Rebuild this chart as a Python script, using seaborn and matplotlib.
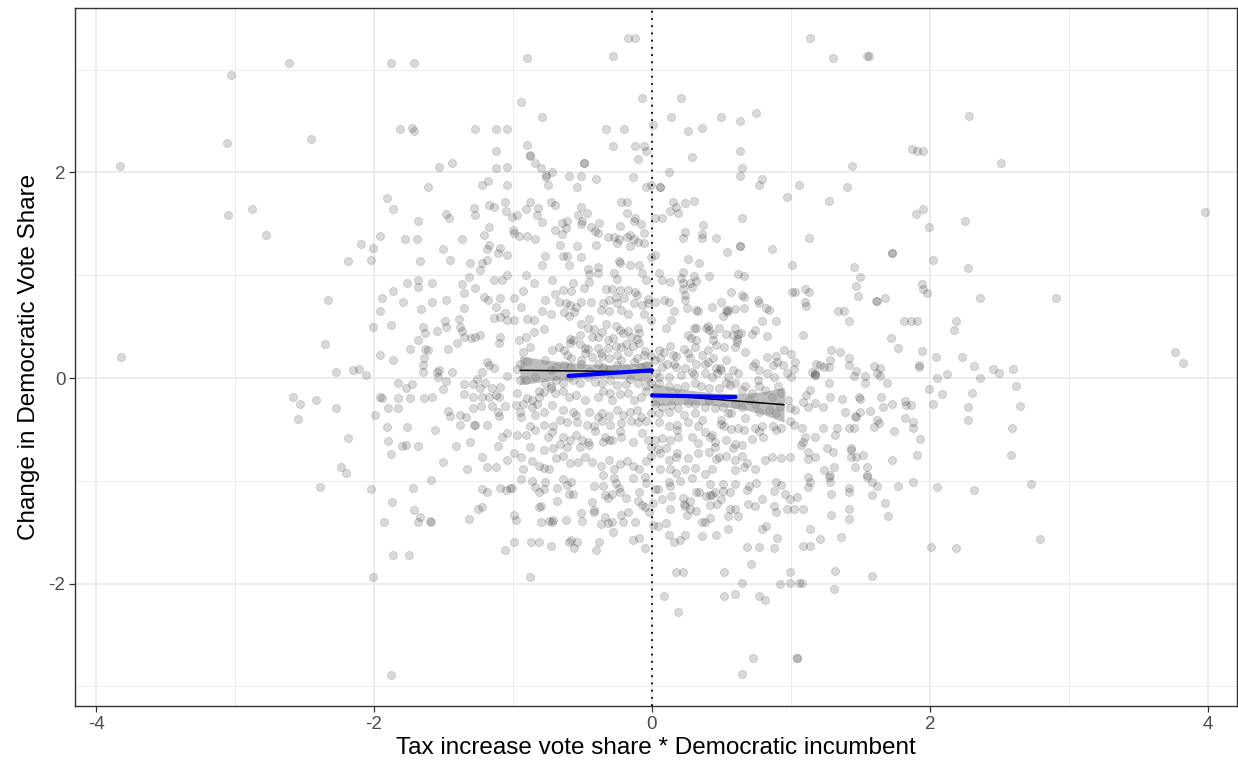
import matplotlib
matplotlib.use("Agg")
import matplotlib.pyplot as plt
from matplotlib.ticker import MultipleLocator
import pandas as pd
import seaborn as sns

# ---- district observations: (tax increase vote share * Dem incumbent, change in Dem vote share)
outer_left = [
    (-3.83, 2.06), (-3.82, 0.20), (-3.03, 2.95), (-3.06, 2.29), (-3.05, 1.59), (-2.88, 1.64),
    (-2.78, 1.39), (-2.61, 3.07), (-2.45, 2.33), (-2.33, 0.76), (-2.35, 0.33), (-2.58, -0.18),
    (-2.55, -0.40), (-2.53, -0.25), (-2.42, -0.21), (-2.39, -1.06), (-2.27, -0.29), (-2.27, 0.06),
    (-2.19, 1.14), (-2.19, -0.58), (-2.20, -0.92), (-2.24, -0.87), (-2.15, 0.08), (-2.11, 0.09),
    (-2.09, 1.30), (-2.06, 0.03),
]

upper_left = [
    (-1.88, 3.07), (-1.71, 3.07), (-1.81, 2.42), (-1.73, 2.43), (-1.71, 2.40), (-1.27, 2.42),
    (-1.12, 2.42), (-1.04, 2.42), (-1.12, 2.21), (-1.53, 2.05), (-1.44, 2.09), (-1.12, 2.04),
    (-1.04, 2.05), (-1.18, 1.92), (-1.22, 1.88), (-1.61, 1.86), (-1.91, 1.75), (-1.86, 1.64),
    (-1.68, 1.53), (-1.48, 1.60), (-1.46, 1.56), (-1.28, 1.65), (-1.27, 1.59), (-1.17, 1.68),
    (-1.14, 1.66), (-1.06, 1.71), (-1.05, 1.63), (-1.17, 1.47), (-1.21, 1.39), (-1.96, 1.38),
    (-1.78, 1.35), (-1.69, 1.35), (-1.37, 1.35), (-1.04, 1.88),
    (-0.90, 3.11), (-0.28, 3.13), (-0.17, 3.31), (-0.12, 3.31), (-0.94, 2.69), (-0.79, 2.54),
    (-0.07, 2.72), (-0.33, 2.42), (-0.20, 2.42), (-0.90, 2.27), (-0.88, 2.17), (-0.88, 2.16),
    (-0.84, 2.09), (-0.80, 2.04), (-0.76, 1.98), (-0.76, 1.96), (-0.72, 2.00), (-0.75, 1.88),
    (-0.28, 2.26), (-0.12, 2.26), (-0.06, 2.26), (-0.04, 2.21), (-0.10, 2.13), (-0.49, 2.09),
    (-0.49, 2.09), (-0.60, 1.97), (-0.51, 1.97), (-0.54, 1.86), (-0.40, 1.94), (-0.14, 1.96),
    (-0.04, 1.86), (-0.01, 1.88), (-0.88, 1.71), (-0.91, 1.64), (-0.82, 1.65), (-0.83, 1.59),
    (-0.79, 1.52), (-0.97, 1.59), (-0.73, 1.71), (-0.70, 1.68), (-0.22, 1.71), (-0.18, 1.71),
    (-0.18, 1.61), (-0.12, 1.56), (-0.13, 1.53), (-0.08, 1.50), (-0.51, 1.66), (-0.47, 1.61),
    (-0.53, 1.59), (-0.50, 1.53), (-0.51, 1.50), (-0.38, 1.51), (-0.65, 1.51), (-0.61, 1.53),
    (-0.62, 1.46), (-0.70, 1.44), (-0.65, 1.40), (-0.44, 1.47), (-0.41, 1.43), (-0.39, 1.41),
    (-0.23, 1.48), (-0.06, 1.41), (-1.01, 1.57), (-1.00, 1.44), (-0.99, 1.41), (-0.96, 1.38),
    (-0.90, 1.38), (-0.84, 1.35), (-0.32, 1.37), (-0.27, 1.37), (-0.24, 1.35), (-0.18, 1.37),
    (-0.16, 1.39), (-0.13, 1.35),
]

middle_far_left = [
    (-2.01, 1.27), (-2.02, 1.15), (-1.67, 1.14), (-1.50, 1.26), (-1.45, 1.15), (-1.17, 1.29),
    (-1.19, 1.26), (-1.09, 1.27), (-1.11, 1.22), (-1.04, 1.20), (-1.31, 1.12), (-1.22, 1.12),
    (-1.24, 1.05), (-1.19, 1.15), (-1.76, 0.92), (-1.68, 0.95), (-1.68, 0.89), (-1.58, 0.92),
    (-1.86, 0.85), (-1.94, 0.78), (-1.79, 0.74), (-1.96, 0.65), (-1.58, 0.74), (-1.48, 0.76),
    (-1.66, 0.67), (-1.37, 0.91), (-1.35, 0.83), (-1.27, 0.88), (-1.32, 0.98), (-1.14, 0.95),
    (-1.08, 0.95), (-1.04, 1.00), (-1.21, 0.79), (-1.18, 0.76), (-1.09, 0.78), (-1.12, 0.69),
    (-1.06, 0.63), (-1.09, 0.59), (-1.14, 0.58), (-1.04, 0.56), (-1.35, 0.68), (-2.01, 0.50),
    (-1.88, 0.52), (-1.65, 0.50), (-1.55, 0.46), (-1.49, 0.55), (-1.48, 0.50), (-1.63, 0.44),
    (-1.68, 0.37), (-1.74, 0.28), (-1.39, 0.57), (-1.38, 0.50), (-1.37, 0.46), (-1.35, 0.40),
    (-1.30, 0.39), (-1.27, 0.40), (-1.24, 0.42), (-1.40, 0.34), (-1.47, 0.28), (-1.63, 0.28),
    (-1.61, 0.27), (-1.64, 0.19), (-1.65, 0.13), (-1.65, 0.06), (-1.09, 0.40), (-1.10, 0.34),
    (-1.96, 0.22), (-1.86, 0.18), (-1.19, 0.16), (-1.17, 0.13), (-1.14, 0.10), (-1.22, 0.06),
    (-1.55, 0.06), (-1.53, 0.08), (-1.54, 0.01), (-1.44, 0.06), (-1.48, -0.03), (-1.50, -0.11),
    (-1.83, -0.05), (-1.77, -0.10), (-1.73, -0.06), (-1.96, -0.18), (-1.94, -0.19), (-1.83, -0.19),
    (-1.74, -0.19), (-1.64, -0.19), (-1.58, -0.18), (-1.90, -0.29), (-1.83, -0.29), (-1.99, -0.36),
    (-1.35, -0.06), (-1.29, -0.06), (-1.26, -0.01), (-1.24, -0.10), (-1.20, -0.05), (-1.15, -0.10),
    (-1.09, -0.09), (-1.04, 0.02), (-1.22, -0.18), (-1.17, -0.18), (-1.12, -0.17), (-1.10, -0.18),
    (-1.35, -0.16), (-1.29, -0.18), (-1.47, -0.32), (-1.45, -0.37), (-1.38, -0.36), (-1.34, -0.38),
    (-1.29, -0.29), (-1.23, -0.27), (-1.15, -0.27), (-1.06, -0.27), (-1.11, -0.33), (-1.10, -0.37),
    (-1.91, -0.48), (-1.76, -0.48), (-1.56, -0.51), (-1.38, -0.46), (-1.28, -0.46), (-1.27, -0.46),
    (-1.19, -0.46), (-1.90, -0.61), (-1.80, -0.66), (-1.77, -0.65), (-1.68, -0.66), (-1.88, -0.74),
    (-1.41, -0.66), (-1.31, -0.62), (-1.22, -0.77), (-1.11, -0.66), (-1.08, -0.57), (-1.04, -0.54),
    (-1.50, -0.82), (-1.33, -0.89), (-1.19, -0.87), (-1.12, -0.87), (-1.04, -0.80),
]

middle_near_left = [
    (-0.66, 1.29), (-0.54, 1.28), (-0.40, 1.29), (-0.25, 1.31), (-0.16, 1.28), (-0.10, 1.32),
    (-0.06, 1.31), (-0.77, 1.19), (-0.64, 1.19), (-0.51, 1.18), (-0.61, 1.19), (-0.79, 1.10),
    (-0.60, 1.10), (-0.24, 1.14), (-0.23, 1.12), (-0.16, 1.10), (-0.09, 1.10), (-0.01, 1.18),
    (-0.46, 1.06), (-0.39, 1.08), (-0.39, 1.02), (-0.45, 1.01), (-0.27, 1.02), (-0.25, 0.96),
    (-0.07, 1.02), (-0.04, 0.95), (-0.72, 0.95), (-0.85, 0.92), (-0.91, 1.00), (-0.57, 0.92),
    (-0.64, 0.86), (-0.58, 0.85), (-0.49, 0.88), (-0.45, 0.93), (-0.33, 0.87), (-0.29, 0.87),
    (-0.23, 0.86), (-0.17, 0.86), (-0.12, 0.84), (-0.11, 0.81), (-0.03, 0.77), (-0.93, 0.85),
    (-0.70, 0.82), (-0.77, 0.76), (-0.99, 0.78), (-0.67, 0.74), (-0.62, 0.73), (-0.59, 0.71),
    (-0.55, 0.69), (-0.51, 0.74), (-0.44, 0.74), (-0.35, 0.73), (-0.31, 0.76), (-0.26, 0.79),
    (-0.25, 0.73), (-0.20, 0.78), (-0.13, 0.73), (-0.07, 0.71), (-0.03, 0.73), (-0.94, 0.69),
    (-0.79, 0.65), (-0.73, 0.62), (-0.63, 0.64), (-0.60, 0.60), (-0.56, 0.64), (-0.37, 0.66),
    (-0.31, 0.65), (-0.22, 0.66), (-0.17, 0.62), (-0.06, 0.62), (-0.01, 0.56), (-0.45, 0.57),
    (-0.51, 0.53), (-0.90, 0.57), (-0.85, 0.56), (-0.99, 0.56), (-0.78, 0.48), (-0.85, 0.45),
    (-0.91, 0.40), (-0.96, 0.37), (-0.46, 0.49), (-0.42, 0.48), (-0.33, 0.53), (-0.26, 0.51),
    (-0.23, 0.47), (-0.21, 0.44), (-0.17, 0.46), (-0.15, 0.40), (-0.10, 0.49), (-0.09, 0.44),
    (-0.11, 0.38), (-0.52, 0.42), (-0.57, 0.37), (-0.59, 0.38), (-0.39, 0.40), (-0.43, 0.40),
    (-0.36, 0.45), (-0.32, 0.37), (-0.28, 0.39), (-0.88, 0.30), (-0.93, 0.25), (-0.72, 0.27),
    (-0.67, 0.30), (-0.63, 0.27), (-0.59, 0.34), (-0.52, 0.33), (-0.48, 0.29), (-0.39, 0.29),
    (-0.46, 0.28), (-0.37, 0.24), (-0.32, 0.29), (-0.26, 0.31), (-0.22, 0.30), (-0.19, 0.33),
    (-0.14, 0.31), (-0.09, 0.34), (-0.05, 0.26), (-0.61, 0.22), (-0.58, 0.19), (-0.51, 0.18),
    (-0.48, 0.24), (-0.43, 0.20), (-0.36, 0.21), (-0.31, 0.19), (-0.25, 0.22), (-0.22, 0.18),
    (-0.17, 0.25), (-0.11, 0.19), (-0.06, 0.22), (-0.01, 0.21), (-0.97, 0.09), (-0.95, 0.14),
    (-0.90, 0.17), (-0.77, 0.18), (-0.73, 0.08), (-0.69, 0.11), (-0.63, 0.13), (-0.59, 0.11),
    (-0.51, 0.14), (-0.45, 0.07), (-0.39, 0.14), (-0.35, 0.11), (-0.31, 0.08), (-0.25, 0.13),
    (-0.19, 0.10), (-0.13, 0.16), (-0.08, 0.11), (-0.04, 0.13), (-0.95, -0.02), (-0.91, -0.02),
    (-0.84, 0.01), (-0.77, -0.05), (-0.73, -0.08), (-0.69, -0.02), (-0.64, -0.05), (-0.60, 0.01),
    (-0.57, -0.02), (-0.52, -0.05), (-0.46, 0.01), (-0.41, -0.04), (-0.36, -0.05), (-0.30, -0.02),
    (-0.25, -0.07), (-0.19, -0.06), (-0.16, -0.01), (-0.10, -0.05), (-0.04, -0.08), (-0.005, -0.05),
    (-0.81, -0.13), (-0.97, -0.15), (-0.90, -0.19), (-0.86, -0.21), (-0.81, -0.18), (-0.78, -0.14),
    (-0.73, -0.10), (-0.70, -0.15), (-0.64, -0.13), (-0.60, -0.18), (-0.55, -0.17), (-0.48, -0.21),
    (-0.39, -0.18), (-0.35, -0.13), (-0.30, -0.15), (-0.29, -0.21), (-0.23, -0.16), (-0.17, -0.15),
    (-0.13, -0.21), (-0.08, -0.18), (-0.04, -0.13), (-0.98, -0.26), (-0.93, -0.25), (-0.86, -0.28),
    (-0.83, -0.25), (-0.95, -0.33), (-0.94, -0.38), (-0.84, -0.36), (-0.78, -0.33), (-0.72, -0.26),
    (-0.64, -0.31), (-0.57, -0.33), (-0.55, -0.36), (-0.45, -0.33), (-0.39, -0.38), (-0.36, -0.34),
    (-0.31, -0.37), (-0.25, -0.31), (-0.21, -0.36), (-0.16, -0.33), (-0.11, -0.31), (-0.08, -0.38),
    (-0.04, -0.42), (-0.88, -0.47), (-0.78, -0.46), (-0.66, -0.41), (-0.71, -0.47), (-0.61, -0.43),
    (-0.54, -0.43), (-0.47, -0.46), (-0.42, -0.47), (-0.36, -0.42), (-0.30, -0.46), (-0.22, -0.44),
    (-0.15, -0.42), (-0.10, -0.43), (-0.01, -0.34), (-0.97, -0.55), (-0.91, -0.55), (-0.84, -0.51),
    (-0.72, -0.53), (-0.75, -0.57), (-0.64, -0.57), (-0.59, -0.60), (-0.55, -0.55), (-0.50, -0.60),
    (-0.46, -0.62), (-0.41, -0.52), (-0.34, -0.57), (-0.29, -0.60), (-0.23, -0.52), (-0.22, -0.57),
    (-0.14, -0.62), (-0.07, -0.54), (-0.03, -0.60), (-0.01, -0.67), (-0.88, -0.67), (-0.78, -0.70),
    (-0.71, -0.68), (-0.66, -0.64), (-0.61, -0.67), (-0.52, -0.67), (-0.45, -0.65), (-0.35, -0.62),
    (-0.31, -0.60), (-0.99, -0.73), (-0.94, -0.77), (-0.93, -0.89), (-0.86, -0.81), (-0.81, -0.86),
    (-0.74, -0.89), (-0.78, -0.88), (-0.69, -0.78), (-0.64, -0.76), (-0.59, -0.83), (-0.53, -0.82),
    (-0.48, -0.77), (-0.43, -0.82), (-0.37, -0.86), (-0.31, -0.80), (-0.27, -0.89), (-0.23, -0.84),
    (-0.18, -0.81), (-0.14, -0.86), (-0.09, -0.89), (-0.04, -0.81), (-0.005, -0.76),
]

lower_left = [
    (-2.02, -1.08), (-1.72, -1.07), (-1.59, -0.99), (-1.87, -1.21), (-1.71, -1.28), (-1.93, -1.40),
    (-1.67, -1.35), (-1.68, -1.40), (-1.60, -1.39), (-1.59, -1.40), (-1.32, -1.37), (-1.25, -1.27),
    (-1.22, -1.26), (-1.22, -1.08), (-1.19, -1.11), (-1.09, -1.07), (-1.05, -1.09), (-1.02, -1.07),
    (-1.86, -1.72), (-1.75, -1.72), (-1.06, -1.67), (-2.01, -1.94), (-1.88, -2.89),
    (-0.88, -1.94), (-0.99, -1.60), (-0.87, -1.60), (-0.81, -1.60), (-0.73, -1.63), (-0.60, -1.60),
    (-0.58, -1.58), (-0.56, -1.65), (-0.54, -1.60), (-0.38, -1.60), (-0.40, -1.67), (-0.14, -1.58),
    (-0.09, -1.56), (-0.05, -1.65), (-0.99, -1.33), (-0.98, -1.38), (-0.80, -1.40), (-0.74, -1.39),
    (-0.72, -1.40), (-0.71, -1.38), (-0.62, -1.38), (-0.51, -1.31), (-0.50, -1.39), (-0.37, -1.42),
    (-0.34, -1.35), (-0.32, -1.41), (-0.29, -1.40), (-0.28, -1.50), (-0.22, -1.33), (-0.21, -1.40),
    (-0.17, -1.30), (-0.12, -1.40), (-0.43, -1.21), (-0.42, -1.28), (-0.42, -1.30), (-0.68, -1.20),
    (-0.81, -1.26), (-0.80, -1.25), (-0.81, -1.11), (-0.78, -1.08), (-0.84, -1.06), (-0.86, -1.00),
    (-0.94, -0.98), (-1.01, -1.07), (-0.77, -1.01), (-0.68, -1.07), (-0.64, -0.98), (-0.61, -1.04),
    (-0.58, -1.01), (-0.60, -1.13), (-0.57, -1.13), (-0.42, -1.05), (-0.35, -1.05), (-0.34, -1.14),
    (-0.32, -1.17), (-0.29, -1.13), (-0.26, -1.02), (-0.24, -1.07), (-0.23, -1.11), (-0.19, -1.17),
    (-0.27, -0.97), (-0.35, -0.94), (-0.14, -0.97), (-0.05, -0.96), (-0.09, -1.11), (-0.10, -1.20),
    (-0.05, -1.26), (-0.02, -1.30), (-0.07, -1.24), (-0.04, -1.02),
]

upper_right = [
    (0.01, 2.46), (0.21, 2.72), (0.14, 2.54), (0.26, 2.40), (0.36, 2.43), (0.50, 2.54),
    (0.63, 2.50), (0.75, 2.58), (0.29, 2.15), (0.63, 2.21), (0.65, 2.04), (0.63, 1.97),
    (0.12, 2.00), (0.06, 1.86), (0.06, 1.86), (0.79, 1.94), (0.77, 1.88), (0.97, 1.76),
    (1.06, 1.88), (0.15, 1.71), (0.17, 1.66), (0.13, 1.63), (0.19, 1.61), (0.24, 1.70),
    (0.30, 1.72), (0.02, 1.56), (0.07, 1.56), (0.65, 1.56), (0.37, 1.49), (0.36, 1.40),
    (0.36, 1.36), (0.24, 1.42), (0.22, 1.36), (0.46, 1.36),
    (1.14, 3.31), (1.30, 3.11), (1.55, 3.13), (1.56, 3.13), (1.87, 2.23), (1.91, 2.21),
    (1.95, 2.21), (1.44, 2.06), (1.40, 1.86), (1.27, 1.72), (1.90, 1.60), (1.95, 1.64),
    (1.99, 1.47), (1.13, 1.36),
]

middle_near_right = [
    (0.02, 1.20), (0.26, 1.16), (0.34, 1.12), (0.54, 1.23), (0.63, 1.28), (0.63, 1.28),
    (0.86, 1.26), (1.01, 1.10), (0.05, 1.02), (0.07, 0.95), (0.13, 0.93), (0.22, 1.03),
    (0.21, 0.97), (0.22, 0.92), (0.22, 0.87), (0.27, 0.92), (0.30, 0.99), (0.32, 0.94),
    (0.29, 0.89), (0.41, 0.99), (0.62, 1.01), (0.66, 0.99), (1.01, 0.84), (1.03, 0.84),
    (0.02, 0.74), (0.09, 0.76), (0.12, 0.74), (0.24, 0.81), (0.24, 0.76), (0.25, 0.68),
    (0.16, 0.65), (0.32, 0.66), (0.33, 0.65), (0.43, 0.69), (0.50, 0.74), (0.57, 0.84),
    (0.65, 0.81), (0.66, 0.79), (0.53, 0.66), (0.54, 0.64), (0.55, 0.66), (0.51, 0.60),
    (0.60, 0.67), (0.66, 0.68), (0.76, 0.76), (0.77, 0.73), (0.82, 0.68), (0.84, 0.66),
    (0.10, 0.49), (0.14, 0.56), (0.30, 0.49), (0.32, 0.49), (0.40, 0.51), (0.41, 0.47),
    (0.39, 0.49), (0.44, 0.43), (0.48, 0.49), (0.60, 0.49), (0.62, 0.43), (0.64, 0.44),
    (0.61, 0.38), (0.58, 0.42), (0.74, 0.47), (0.72, 0.43), (0.79, 0.55), (0.89, 0.55),
    (0.83, 0.41), (0.26, 0.42), (0.28, 0.39), (0.32, 0.37), (0.53, 0.43), (0.44, 0.37),
    (0.05, 0.27), (0.09, 0.25), (0.13, 0.31), (0.15, 0.22), (0.23, 0.28), (0.26, 0.24),
    (0.27, 0.19), (0.36, 0.22), (0.31, 0.30), (0.40, 0.27), (0.46, 0.32), (0.52, 0.30),
    (0.60, 0.30), (0.61, 0.35), (0.67, 0.25), (0.74, 0.15), (0.83, 0.20), (0.89, 0.21),
    (0.90, 0.16), (0.95, 0.27), (1.00, 0.23), (1.03, 0.16), (0.02, 0.18), (0.06, 0.19),
    (0.07, 0.11), (0.11, 0.14), (0.16, 0.14), (0.17, 0.11), (0.17, 0.21), (0.24, 0.10),
    (0.29, 0.06), (0.32, 0.14), (0.38, 0.14), (0.40, 0.16), (0.44, 0.19), (0.46, 0.10),
    (0.49, 0.10), (0.53, 0.18), (0.58, 0.08), (0.62, 0.05), (0.55, 0.01), (0.50, 0.08),
    (0.03, 0.05), (0.05, 0.01), (0.12, 0.01), (0.21, 0.03), (0.30, 0.04), (0.38, 0.05),
    (0.43, 0.01), (0.47, 0.05), (0.73, 0.12), (0.77, 0.08), (0.83, 0.05), (0.88, 0.01),
    (0.87, 0.13), (0.94, 0.13), (0.97, 0.05), (1.00, 0.01), (1.02, 0.09), (0.05, -0.05),
    (0.12, -0.08), (0.18, -0.10), (0.24, -0.08), (0.31, -0.05), (0.35, -0.08), (0.41, -0.10),
    (0.48, -0.10), (0.53, -0.05), (0.56, -0.07), (0.60, -0.05), (0.65, -0.12), (0.67, -0.08),
    (0.72, -0.15), (0.76, -0.02), (0.77, -0.08), (0.81, -0.12), (0.86, -0.18), (0.91, -0.08),
    (0.93, -0.15), (0.98, -0.21), (0.02, -0.25), (0.07, -0.28), (0.14, -0.26), (0.19, -0.29),
    (0.26, -0.24), (0.31, -0.25), (0.38, -0.28), (0.41, -0.21), (0.45, -0.29), (0.51, -0.28),
    (0.55, -0.34), (0.60, -0.25), (0.65, -0.28), (0.70, -0.21), (0.74, -0.25), (0.77, -0.33),
    (0.84, -0.31), (0.89, -0.34), (0.92, -0.27), (0.99, -0.29), (1.03, -0.31), (0.05, -0.34),
    (0.12, -0.33), (0.23, -0.36), (0.31, -0.34), (0.36, -0.41), (0.50, -0.41), (0.57, -0.34),
    (0.67, -0.39), (0.05, -0.43), (0.12, -0.47), (0.18, -0.46), (0.18, -0.51), (0.26, -0.43),
    (0.33, -0.47), (0.38, -0.53), (0.43, -0.55), (0.50, -0.45), (0.52, -0.47), (0.57, -0.50),
    (0.62, -0.49), (0.66, -0.51), (0.74, -0.49), (0.77, -0.52), (0.79, -0.47), (0.87, -0.47),
    (0.89, -0.51), (0.93, -0.49), (0.99, -0.42), (1.02, -0.46), (0.02, -0.60), (0.07, -0.58),
    (0.13, -0.60), (0.19, -0.57), (0.29, -0.57), (0.33, -0.63), (0.42, -0.57), (0.45, -0.62),
    (0.53, -0.60), (0.60, -0.64), (0.65, -0.65), (0.72, -0.59), (0.80, -0.57), (0.04, -0.69),
    (0.06, -0.73), (0.10, -0.68), (0.12, -0.80), (0.17, -0.77), (0.18, -0.73), (0.26, -0.78),
    (0.33, -0.73), (0.41, -0.72), (0.45, -0.67), (0.46, -0.79), (0.48, -0.77), (0.53, -0.76),
    (0.58, -0.68), (0.60, -0.80), (0.65, -0.76), (0.68, -0.83), (0.74, -0.89), (0.81, -0.80),
    (0.86, -0.77), (0.93, -0.78), (0.99, -0.77), (0.06, -0.89), (0.13, -0.89), (0.17, -0.92),
    (0.24, -0.89), (0.31, -0.88), (0.38, -0.93), (0.43, -0.89), (0.60, -0.90), (0.66, -0.87),
]

middle_far_right = [
    (1.73, 1.22), (1.73, 1.22), (2.02, 1.15), (1.45, 1.08), (1.50, 0.98), (1.47, 0.90),
    (1.48, 0.80), (1.94, 0.91), (1.95, 0.87), (1.98, 0.83), (1.10, 0.87), (1.13, 0.84),
    (1.10, 0.74), (1.11, 0.70), (1.61, 0.75), (1.62, 0.75), (1.68, 0.78), (1.34, 0.65),
    (1.38, 0.65), (1.42, 0.55), (1.81, 0.55), (1.86, 0.55), (1.91, 0.55), (1.72, 0.39),
    (1.77, 0.29), (1.09, 0.42), (1.29, 0.27), (1.35, 0.25), (1.28, 0.18), (1.42, 0.19),
    (1.42, 0.13), (1.47, 0.07), (1.45, 0.02), (1.53, 0.02), (1.53, -0.05), (1.94, 0.26),
    (1.92, 0.13), (1.92, 0.11), (2.04, 0.20), (1.60, 0.12), (1.64, 0.10), (1.62, 0.05),
    (1.64, 0.02), (1.69, -0.05), (1.18, 0.14), (1.21, 0.13), (1.24, 0.11), (1.27, 0.11),
    (1.15, 0.06), (1.17, 0.05), (1.17, 0.03), (1.17, 0.03), (1.27, -0.05), (2.05, 0.00),
    (1.99, -0.11), (2.09, -0.16), (2.02, -0.25), (1.14, -0.12), (1.11, -0.17), (1.09, -0.23),
    (1.12, -0.28), (1.17, -0.24), (1.23, -0.28), (1.28, -0.18), (1.37, -0.20), (1.49, -0.18),
    (1.50, -0.20), (1.65, -0.18), (1.73, -0.25), (1.66, -0.28), (1.57, -0.32), (1.50, -0.33),
    (1.39, -0.33), (1.46, -0.37), (1.47, -0.38), (1.82, -0.22), (1.83, -0.26), (1.86, -0.26),
    (1.82, -0.39), (1.88, -0.43), (1.88, -0.49), (1.62, -0.41), (1.63, -0.44), (1.60, -0.48),
    (1.74, -0.52), (1.93, -0.59), (1.08, -0.49), (1.23, -0.49), (1.33, -0.49), (1.42, -0.49),
    (1.45, -0.49), (1.32, -0.55), (1.17, -0.57), (1.10, -0.57), (1.09, -0.62), (1.07, -0.65),
    (1.26, -0.68), (1.30, -0.72), (1.43, -0.68), (1.43, -0.70), (1.52, -0.75), (1.47, -0.77),
    (1.43, -0.77), (1.12, -0.72), (1.12, -0.79), (1.17, -0.77), (1.73, -0.80), (1.91, -0.75),
    (1.24, -0.90), (1.31, -0.87), (1.46, -0.87), (1.55, -0.87), (1.28, -0.94), (1.55, -0.94),
]

outer_right = [
    (2.28, 2.55), (2.51, 2.09), (2.25, 1.53), (2.27, 1.07), (2.36, 0.78), (2.19, 0.55),
    (2.91, 0.78), (3.76, 0.25), (3.82, 0.15), (3.98, 1.62), (2.17, 0.47), (2.23, 0.20),
    (2.12, 0.04), (2.32, 0.12), (2.45, 0.09), (2.50, 0.05), (2.36, 0.00), (2.60, 0.09),
    (2.62, -0.08), (2.30, -0.15), (2.27, -0.28), (2.65, -0.27), (2.27, -0.41), (2.59, -0.49),
    (2.58, -0.75), (2.32, -1.09), (2.73, -1.03), (2.19, -1.65), (2.79, -1.57),
]

lower_right = [
    (0.01, -1.43), (0.01, -1.22),
    (0.65, -2.88), (0.73, -2.72), (1.04, -2.72), (1.04, -2.72), (0.19, -2.28), (0.09, -2.12),
    (0.52, -2.12), (0.60, -2.10), (0.77, -2.12), (0.81, -2.16), (0.17, -1.89), (0.22, -1.89),
    (0.52, -1.89), (0.65, -1.99), (0.71, -1.81), (0.92, -2.00), (0.99, -1.99), (0.99, -1.89),
    (1.06, -1.99), (0.68, -1.64), (0.77, -1.64), (0.88, -1.65), (0.90, -1.56), (0.79, -1.47),
    (0.82, -1.44), (0.16, -1.60), (0.20, -1.58), (0.24, -1.53), (0.12, -1.53), (0.36, -1.54),
    (0.46, -1.53), (0.55, -1.47), (0.10, -1.41), (0.04, -1.44), (0.36, -1.40), (0.38, -1.40),
    (0.42, -1.36), (0.55, -1.34), (0.62, -1.34), (0.56, -1.27), (0.60, -1.27), (0.25, -1.33),
    (0.32, -1.29), (0.27, -1.27), (0.24, -1.25), (0.23, -1.23), (0.13, -1.27), (0.42, -1.24),
    (0.47, -1.23), (0.69, -1.23), (0.74, -1.25), (0.88, -1.25), (0.89, -1.30), (0.97, -1.27),
    (1.02, -1.27), (0.07, -1.18), (0.14, -1.15), (0.22, -1.17), (0.27, -1.20), (0.32, -1.11),
    (0.34, -1.11), (0.39, -1.15), (0.42, -1.14), (0.50, -1.18), (0.45, -1.11), (0.56, -1.11),
    (0.60, -1.03), (0.68, -1.09), (0.70, -1.05), (0.75, -1.02), (0.79, -1.18), (0.88, -1.10),
    (0.89, -1.01), (0.93, -1.04), (0.96, -1.13), (0.99, -1.18), (1.04, -1.16), (0.02, -1.08),
    (0.04, -1.08), (0.12, -1.01), (0.13, -1.05), (0.20, -1.00), (0.29, -0.97), (0.42, -1.03),
    (0.43, -1.14), (0.51, -1.03), (0.51, -1.10),
    (2.05, -1.06), (2.01, -1.64), (1.88, -1.01), (1.77, -1.05), (1.68, -1.22), (1.70, -1.34),
    (1.58, -1.01), (1.62, -1.05), (1.58, -1.14), (1.55, -0.96), (1.42, -1.07), (1.42, -1.11),
    (1.42, -1.27), (1.42, -1.37), (1.27, -0.96), (1.28, -1.01), (1.29, -1.13), (1.29, -1.33),
    (1.36, -1.55), (1.21, -1.57), (1.14, -1.47), (1.14, -1.63), (1.09, -1.63), (1.09, -1.27),
    (1.12, -1.06), (1.14, -1.01), (1.12, -0.96), (1.32, -1.88), (1.31, -2.05), (1.58, -1.93),
    (1.08, -1.99),
]

# ---- local linear fits on either side of the cutoff
wide_left_x = [-0.95, -0.75, -0.50, -0.30, -0.15, 0.0]
wide_left_fit = [0.075, 0.072, 0.068, 0.065, 0.062, 0.060]
wide_left_lo = [-0.065, -0.028, -0.002, 0.000, -0.013, -0.045]
wide_left_hi = [0.215, 0.172, 0.138, 0.130, 0.137, 0.165]

wide_right_x = [0.0, 0.20, 0.45, 0.65, 0.80, 0.95]
wide_right_fit = [-0.160, -0.181, -0.207, -0.228, -0.244, -0.260]
wide_right_lo = [-0.270, -0.256, -0.267, -0.303, -0.354, -0.430]
wide_right_hi = [-0.050, -0.106, -0.147, -0.153, -0.134, -0.090]

narrow_left_x = [-0.60, 0.0]
narrow_left_fit = [0.020, 0.075]
narrow_right_x = [0.0, 0.60]
narrow_right_fit = [-0.170, -0.185]

groups = [outer_left, upper_left, middle_far_left, middle_near_left, lower_left,
          upper_right, middle_near_right, middle_far_right, outer_right, lower_right]
points = pd.DataFrame([p for g in groups for p in g], columns=["share", "change"])

sns.set_theme(style="white")
plt.rcParams["font.family"] = ["Liberation Sans", "DejaVu Sans"]
plt.rcParams["axes.unicode_minus"] = False

fig = plt.figure(figsize=(12.38, 7.66), dpi=100)
ax = fig.add_axes([0.0606, 0.0783, 0.9386, 0.9113])

sns.scatterplot(data=points, x="share", y="change", ax=ax, color="black", alpha=0.15,
                s=34, edgecolor="black", linewidth=0.6, zorder=3, legend=False)

ax.fill_between(wide_left_x, wide_left_lo, wide_left_hi, color="#7F7F7F", alpha=0.5,
                linewidth=0, zorder=4)
ax.fill_between(wide_right_x, wide_right_lo, wide_right_hi, color="#7F7F7F", alpha=0.5,
                linewidth=0, zorder=4)
sns.lineplot(x=wide_left_x, y=wide_left_fit, ax=ax, color="black", linewidth=1.1, zorder=5)
sns.lineplot(x=wide_right_x, y=wide_right_fit, ax=ax, color="black", linewidth=1.1, zorder=5)
sns.lineplot(x=narrow_left_x, y=narrow_left_fit, ax=ax, color="#0000FF", linewidth=3, zorder=6)
sns.lineplot(x=narrow_right_x, y=narrow_right_fit, ax=ax, color="#0000FF", linewidth=3, zorder=6)

ax.axvline(0, color="black", linestyle=(0, (1, 3)), linewidth=1.3, zorder=7)

ax.set_xlim(-4.151, 4.209)
ax.set_ylim(-3.192, 3.601)
ax.xaxis.set_major_locator(MultipleLocator(2))
ax.xaxis.set_minor_locator(MultipleLocator(1))
ax.yaxis.set_major_locator(MultipleLocator(2))
ax.yaxis.set_minor_locator(MultipleLocator(1))
ax.grid(which="major", color="#EBEBEB", linewidth=1.3, zorder=0)
ax.grid(which="minor", color="#EBEBEB", linewidth=0.7, zorder=0)
ax.set_axisbelow(True)
for s in ax.spines.values():
    s.set_color("#333333")
    s.set_linewidth(1.0)
ax.tick_params(which="major", direction="out", length=4, width=0.9, color="#333333",
               labelsize=13.5, labelcolor="#4D4D4D", pad=3, bottom=True, left=True)
ax.tick_params(which="minor", length=0)

ax.set_xlabel("Tax increase vote share * Democratic incumbent", fontsize=17.5,
              color="black", labelpad=3)
ax.set_ylabel("Change in Democratic Vote Share", fontsize=17.5, color="black", labelpad=6)

fig.savefig("out.png", dpi=100, facecolor="white")
